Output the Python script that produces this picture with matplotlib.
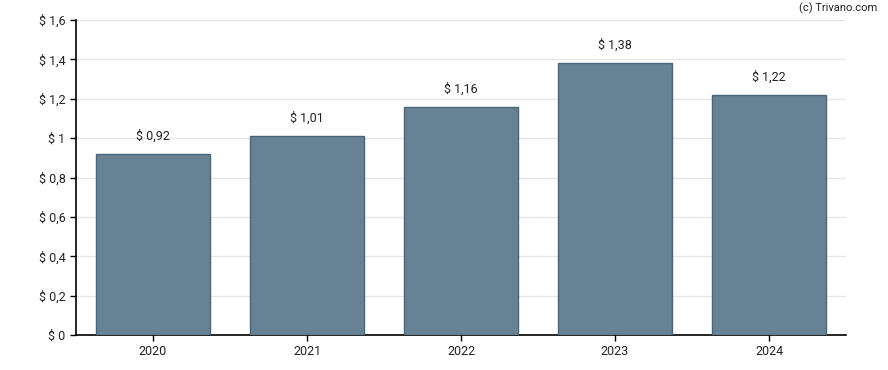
import matplotlib
matplotlib.use('Agg')
import matplotlib.pyplot as plt

years = ['2020', '2021', '2022', '2023', '2024']
values = [0.92, 1.01, 1.16, 1.38, 1.22]
yticks = [0, 0.2, 0.4, 0.6, 0.8, 1.0, 1.2, 1.4, 1.6]
ytick_labels = ['$ 0', '$ 0,2', '$ 0,4', '$ 0,6', '$ 0,8', '$ 1', '$ 1,2', '$ 1,4', '$ 1,6']

plt.rcParams['font.family'] = ['Roboto', 'DejaVu Sans']

fig = plt.figure(figsize=(8.88, 3.70), dpi=100)
ax = fig.add_axes([76/888, 1 - 335/370, 770/888, 315/370])

x = range(len(years))
ax.bar(x, values, width=0.74, color='#668294', edgecolor='#4a6478', linewidth=1, zorder=3)
for xi, v in zip(x, values):
    ax.annotate('$ ' + f'{v:.2f}'.replace('.', ','), (xi, v), xytext=(0, 8),
                textcoords='offset points', ha='center', va='bottom', fontsize=9, color='#222222')

ax.set_xlim(-0.5, 4.5)
ax.set_ylim(0, 1.6)
ax.set_xticks(list(x))
ax.set_xticklabels(years)
ax.set_yticks(yticks)
ax.set_yticklabels(ytick_labels)
ax.tick_params(labelsize=9, length=4, width=1, colors='#000000', labelcolor='#222222')
ax.yaxis.grid(True, color='#e6e6e6', linewidth=1, zorder=0)
ax.set_axisbelow(True)
for s in ['top', 'right']:
    ax.spines[s].set_visible(False)
for s in ['left', 'bottom']:
    ax.spines[s].set_linewidth(1.2)

fig.text(877/888, 1 - 8/370, '(c) Trivano.com', ha='right', va='center', fontsize=8, color='#222222')

fig.savefig('out.png', dpi=100)
